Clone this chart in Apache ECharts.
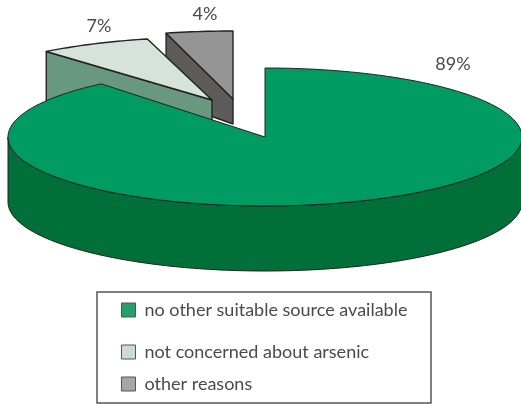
<!DOCTYPE html>
<html><head><meta charset="utf-8">
<style>html,body{margin:0;padding:0;background:#fff}#c{width:521px;height:404px}</style>
<script src="https://cdn.jsdelivr.net/npm/echarts@6/dist/echarts.min.js"></script>
</head><body><div id="c"></div>
<script>
const categories = ['no other suitable source available', 'not concerned about arsenic', 'other reasons'];
const shareValues = [89, 7, 4];
const shareLabels = ['89%', '7%', '4%'];
const topColors = ['#009B62', '#D6E3DB', '#959595'];
const wallColors = ['#007038', '#699880', '#5E5C5A'];
const legendColors = ['#2A9D68', '#CBDDD0', '#A5A6A9'];

const total = shareValues.reduce((a, b) => a + b, 0);
const layouts = [
  { cx: 265, cy: 137, rx: 257, ry: 69, depth: 65, lx: 453, ly: 64, z: 3, sw: 1 },
  { cx: 212, cy: 100, rx: 260, ry: 63, depth: 65, outerDepth: 65, lx: 99, ly: 26, z: 2, sw: 1.4 },
  { cx: 233, cy: 99, rx: 269, ry: 68, depth: 25, outerDepth: 67, lx: 205, ly: 14, z: 1, sw: 1.4 }
];
const FONT = 'Lato';
const LINE = '#222';

function arcPoints(l, a0, a1, dy) {
  const pts = [], n = Math.max(8, Math.ceil(Math.abs(a1 - a0) / 0.02));
  for (let i = 0; i <= n; i++) {
    const t = a0 + (a1 - a0) * i / n;
    pts.push([l.cx + l.rx * Math.sin(t), l.cy + dy - l.ry * Math.cos(t)]);
  }
  return pts;
}
function poly(points, fill, stroke, sw) {
  return { type: 'polygon', shape: { points }, style: { fill, stroke, lineWidth: sw, lineJoin: 'round' } };
}
function sliceRender(i) {
  return function () {
    const l = layouts[i];
    const before = shareValues.slice(0, i).reduce((a, b) => a + b, 0);
    const a0 = before / total * Math.PI * 2;
    const a1 = (before + shareValues[i]) / total * Math.PI * 2;
    const children = [];
    const top = arcPoints(l, a0, a1, 0);
    const apex = [l.cx, l.cy];
    if (i === 0) {
      const front = arcPoints(l, Math.PI / 2, Math.PI * 1.5, 0);
      const lower = arcPoints(l, Math.PI * 1.5, Math.PI / 2, l.depth);
      children.push(poly(front.concat(lower), wallColors[i], LINE, l.sw));
    } else {
      const outer = top[0];
      children.push(poly([outer, apex, [apex[0], apex[1] + l.depth], [outer[0], outer[1] + l.outerDepth]], wallColors[i], LINE, l.sw));
    }
    children.push(poly([apex].concat(top), topColors[i], LINE, l.sw));
    children.push({ type: 'text', style: { text: shareLabels[i], x: l.lx, y: l.ly, align: 'center', verticalAlign: 'middle',
      fill: '#4a4a4a', font: '18px ' + FONT } });
    return { type: 'group', children };
  };
}
const legendTops = [301, 343, 375];
const chart = echarts.init(document.getElementById('c'), null, { renderer: 'canvas' });
chart.setOption({
  animation: false,
  backgroundColor: '#fff',
  legend: categories.map((name, i) => ({
    data: [{ name, icon: 'rect' }], left: 121, top: legendTops[i], itemWidth: 14, itemHeight: 14, itemGap: 0,
    padding: 0, selectedMode: false,
    itemStyle: { color: legendColors[i], borderColor: '#555', borderWidth: 1 },
    textStyle: { color: '#4a4a4a', fontFamily: FONT, fontSize: 18, padding: [0, 0, 0, 4] }
  })),
  graphic: [{ type: 'rect', shape: { x: 97, y: 292, width: 334, height: 111 }, style: { fill: '#fff', stroke: '#555', lineWidth: 1.5 }, z: -1 }],
  series: categories.map((name, i) => ({
    type: 'custom', name, coordinateSystem: 'none', z: layouts[i].z, silent: true,
    itemStyle: { color: legendColors[i] },
    data: [shareValues[i]], renderItem: sliceRender(i)
  }))
});
</script></body></html>
